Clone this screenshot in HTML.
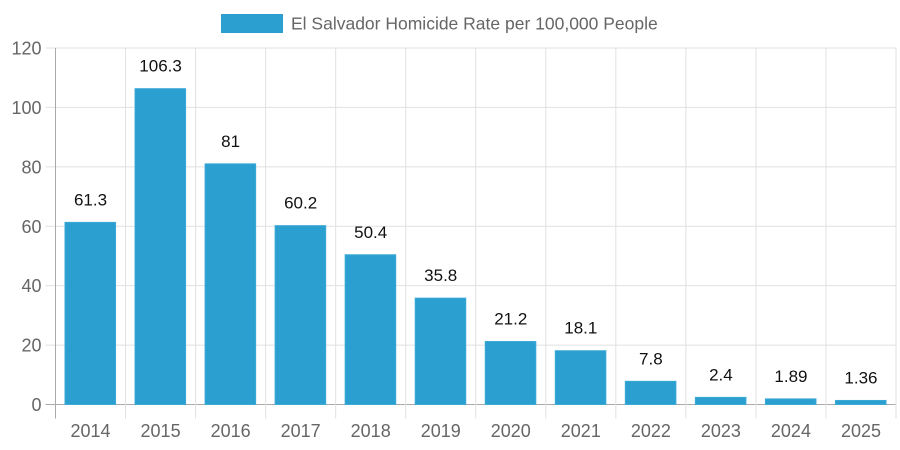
<!DOCTYPE html>
<html><head><meta charset="utf-8"><style>
html,body{margin:0;padding:0;background:#fff;}
svg{display:block;font-family:"Liberation Sans",sans-serif;}
</style></head><body>
<svg id="chart" width="900" height="450">
<g>
<rect x="221" y="14" width="62" height="19" fill="#2b9fcf"/>
<text x="291" y="29.5" font-size="17.5" fill="#666">El Salvador Homicide Rate per 100,000 People</text>
</g>
<g id="grid"></g><g id="bars"></g><g id="labels"></g>
</svg>
<script>
const categories=["2014","2015","2016","2017","2018","2019","2020","2021","2022","2023","2024","2025"];
const values=[61.3,106.3,81,60.2,50.4,35.8,21.2,18.1,7.8,2.4,1.89,1.36];
const valueLabels=["61.3","106.3","81","60.2","50.4","35.8","21.2","18.1","7.8","2.4","1.89","1.36"];
const yTicks=[0,20,40,60,80,100,120];
const L=55.5,R=896,T=48,B=404.5,yMax=120;
const cw=(R-L)/categories.length;
const y=v=>B-(v/yMax)*(B-T);
const x=i=>L+i*cw;
const NS="http://www.w3.org/2000/svg";
function mk(tag,attrs,parent,txt){const e=document.createElementNS(NS,tag);for(const k in attrs)e.setAttribute(k,attrs[k]);if(txt!==undefined)e.textContent=txt;parent.appendChild(e);return e;}
const grid=document.getElementById('grid'),bars=document.getElementById('bars'),labels=document.getElementById('labels');
yTicks.forEach(t=>{
  const ln=mk('line',{x1:L-10,x2:R,y1:y(t),y2:y(t),stroke:t===0?'#aaa':'#e1e1e1','stroke-width':1},grid);
  
  
  const tx=mk('text',{x:L-14,y:y(t)+6.5,'text-anchor':'end','font-size':18,fill:'#666'},grid,String(t));
  
  
});
for(let i=0;i<=categories.length;i++){
  const ln=mk('line',{x1:x(i),x2:x(i),y1:T,y2:B+14,stroke:i===0?'#aaa':'#e1e1e1','stroke-width':1},grid);
  
  
}
categories.forEach((c,i)=>{
  const bx=x(i)+9.5,bw=cw-19.5;
  const r=mk('rect',{x:bx,y:y(values[i]),width:bw,height:B-y(values[i]),fill:'#2b9fcf',stroke:'#3aa9d6','stroke-width':1},bars);
  
  
  const vl=mk('text',{x:x(i)+cw/2,y:y(values[i])-17,'text-anchor':'middle','font-size':17,fill:'#111'},labels,valueLabels[i]);
  
  
  const xl=mk('text',{x:x(i)+cw/2,y:437,'text-anchor':'middle','font-size':18,fill:'#666'},labels,c);
  
  
});
</script>
</body></html>
